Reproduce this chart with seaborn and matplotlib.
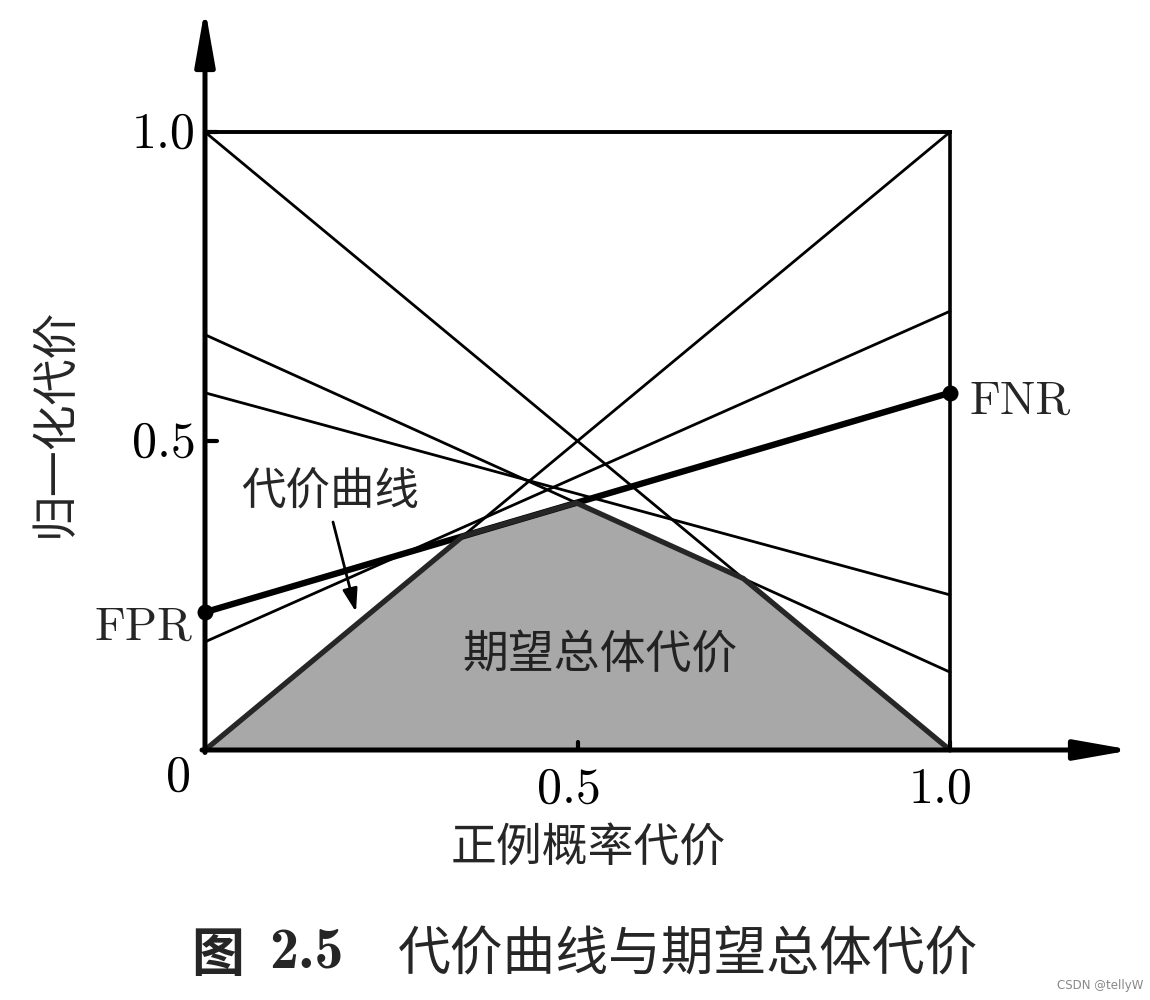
import numpy as np
import pandas as pd
import matplotlib
matplotlib.use("Agg")
import matplotlib.pyplot as plt
import seaborn as sns

# ---- data ----
line_names = ["A", "B", "C", "D", "E", "F"]
fpr_values = [1.0, 0.0, 0.672, 0.578, 0.175, 0.223]   # value at x = 0
fnr_values = [0.0, 1.0, 0.126, 0.251, 0.710, 0.578]   # value at x = 1
highlight = "F"
x_ticks = [0.5, 1.0]
x_tick_labels = ["0.5", "1.0"]
y_ticks = [0.5, 1.0]
y_tick_labels = ["0.5", "1.0"]

sns.set_theme(style="white")
plt.rcParams["font.family"] = ["Noto Sans CJK SC", "DejaVu Sans"]

W, H = 1150, 1000
fig = plt.figure(figsize=(W / 100, H / 100), dpi=100)
ax = fig.add_axes([0, 0, 1, 1])
# pixel geometry of the reference: x=0 -> 205px, x=1 -> 950px ; y=0 -> 750px, y=1 -> 132px
X0, X1, Y0, Y1 = 205.0, 950.0, 750.0, 132.0
sx, sy = X1 - X0, Y0 - Y1
ax.set_xlim(-X0 / sx, (W - X0) / sx)
ax.set_ylim((Y0 - H) / sy, Y0 / sy)
ax.axis("off")

def P(px, py):
    return (px - X0) / sx, (Y0 - py) / sy

df = pd.DataFrame({
    "name": np.repeat(line_names, 2),
    "x": [0.0, 1.0] * len(line_names),
    "y": np.ravel(np.column_stack([fpr_values, fnr_values])),
})

# lower envelope = cost curve
xs = np.linspace(0, 1, 2001)
env = np.min([f + (n - f) * xs for f, n in zip(fpr_values, fnr_values)], axis=0)
ax.fill_between(xs, 0, env, color="#a8a8a8", lw=0, zorder=1)

# lines
for nm in line_names:
    sub = df[df["name"] == nm]
    lw = 4.6 if nm == highlight else 2.0
    sns.lineplot(data=sub, x="x", y="y", estimator=None, color="black",
                 lw=lw, ax=ax, zorder=3, legend=False)

# cost curve outline
ax.plot(xs, env, color="#262626", lw=3.8, zorder=4, solid_joinstyle="miter")

# box: top and right
ax.plot([0, 1], [1, 1], color="black", lw=2.8, zorder=3, solid_capstyle="projecting")
ax.plot([1, 1], [0, 1], color="black", lw=2.6, zorder=3, solid_capstyle="projecting")

# axes with arrows
tipx = P(1132, 0)[0]
tipy = P(0, 8)[1]
arw = dict(arrowstyle="-|>,head_length=3.4,head_width=0.6", lw=3.6, color="black",
           shrinkA=0, shrinkB=0, mutation_scale=10)
ax.annotate("", xy=(tipx, 0), xytext=(-0.004, 0), arrowprops=arw, zorder=5)
ax.annotate("", xy=(0, tipy), xytext=(0, -0.004), arrowprops=arw, zorder=5)

# ticks
tick_len_x = 12 / sx
tick_len_y = 8 / sy
for v in y_ticks:
    ax.plot([0, tick_len_x], [v, v], color="black", lw=3, zorder=5)
for v in x_ticks:
    ax.plot([v, v], [0, tick_len_y], color="black", lw=3, zorder=5)

num_font = dict(family="cmr10", fontsize=36, color="black")
for v, lab in zip(y_ticks, y_tick_labels):
    ax.text(P(196, 0)[0], v - 0.005, lab, ha="right", va="center", **num_font)
for v, lab in zip(x_ticks, x_tick_labels):
    ax.text(v - 0.012, P(0, 790)[1], lab, ha="center", va="center", **num_font)
ax.text(*P(178, 778), "0", ha="center", va="center", **num_font)

# FPR / FNR points
ax.scatter([0, 1], [fpr_values[-1], fnr_values[-1]], s=110, color="black", zorder=6)
ax.text(*P(143, 628), "FPR", ha="center", va="center", family="cmr10", fontsize=34)
ax.text(*P(1020, 402), "FNR", ha="center", va="center", family="cmr10", fontsize=34)

# labels
cjk = ["Noto Sans CJK SC", "DejaVu Sans"]
ax.text(*P(588, 848), "正例概率代价", ha="center", va="center", fontsize=33, family=cjk)
ax.text(*P(55, 422), "归一化代价", ha="center", va="center", rotation=90, fontsize=33, family=cjk)
ax.text(*P(330, 492), "代价曲线", ha="center", va="center", fontsize=32, family=cjk)
ax.text(*P(600, 655), "期望总体代价", ha="center", va="center", fontsize=33,
        family=cjk, color="#222222", zorder=7)
ax.annotate("", xy=P(356, 612), xytext=P(333, 522),
            arrowprops=dict(arrowstyle="-|>,head_length=1.4,head_width=0.45", lw=2,
                            color="black", shrinkA=0, shrinkB=0, mutation_scale=10))

# caption
ax.text(*P(218, 955), "图", ha="center", va="center", fontsize=38, family=cjk, fontweight="bold")
ax.text(*P(306, 953), "2.5", ha="center", va="center", fontsize=42, family="cmb10")
ax.text(*P(398, 955), "代价曲线与期望总体代价", ha="left", va="center", fontsize=38, family=cjk)
ax.text(*P(1143, 985), "CSDN @tellyW", ha="right", va="center", fontsize=8.5,
        family=["DejaVu Sans"], color="#888888")

fig.savefig("out.png", dpi=100)
